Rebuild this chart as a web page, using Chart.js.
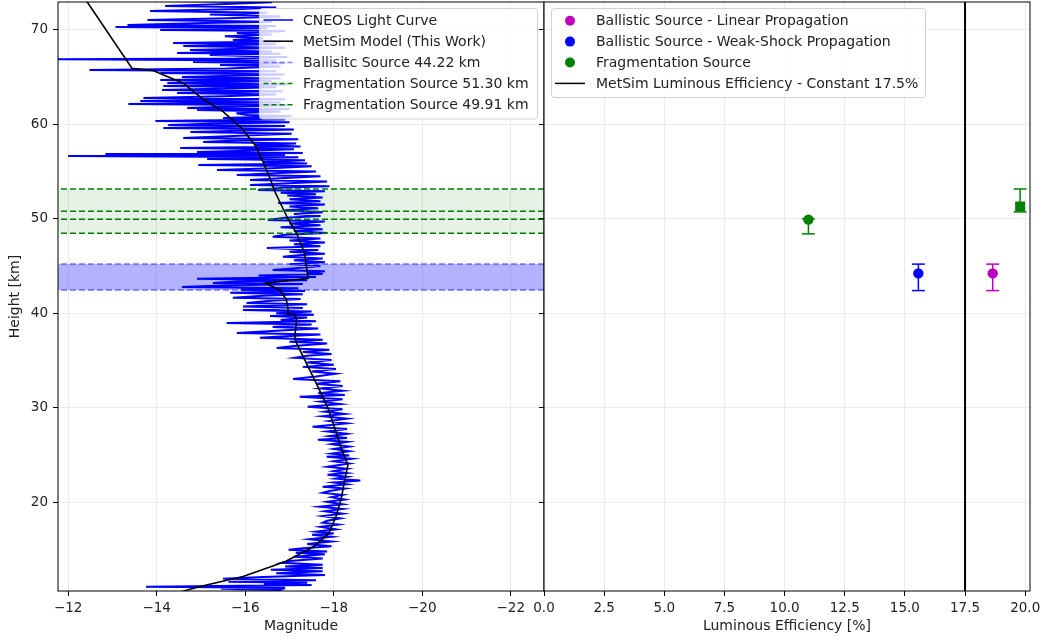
<!DOCTYPE html>
<html>
<head>
<meta charset="utf-8">
<script src="https://cdn.jsdelivr.net/npm/chart.js@4.4.0/dist/chart.umd.min.js"></script>
<style>
  html, body { margin: 0; padding: 0; background: #fff; }
  #wrap { position: relative; width: 1045px; height: 641px; overflow: hidden; }
  #magChart { position: absolute; left: 0; top: 0; }
  #effChart { position: absolute; left: 528px; top: 0; }
</style>
</head>
<body>
<div id="wrap">
  <canvas id="magChart" width="548" height="641"></canvas>
  <canvas id="effChart" width="517" height="641"></canvas>
</div>
<script>
// ---- data ----
const heightTicks = [20, 30, 40, 50, 60, 70];
const magTicks = [-12, -14, -16, -18, -20, -22];
const effTicks = [0, 2.5, 5, 7.5, 10, 12.5, 15, 17.5, 20];

// CNEOS light curve (height km / magnitude)
const lcHeight = [
  73.20, 72.90, 72.70, 72.50, 72.35, 72.20, 71.98, 71.80, 71.60, 71.40,
  71.20, 71.03, 70.85, 70.70, 70.50, 70.40, 70.29, 70.15, 69.97, 69.85,
  69.65, 69.50, 69.30, 69.10, 68.90, 68.75, 68.60, 68.45, 68.28, 68.10,
  67.85, 67.70, 67.54, 67.45, 67.32, 67.10, 66.95, 66.87, 66.75, 66.58,
  66.45, 66.27, 66.10, 65.90, 65.74, 65.60, 65.42, 65.25, 65.00, 64.85,
  64.68, 64.55, 64.36, 64.20, 64.05, 63.90, 63.75, 63.62, 63.50, 63.31,
  63.15, 62.95, 62.78, 62.65, 62.46, 62.30, 62.14, 62.00, 61.85, 61.72,
  61.60, 61.51, 61.35, 61.15, 60.98, 60.85, 60.65, 60.50, 60.35, 60.20,
  60.05, 59.92, 59.80, 59.60, 59.45, 59.30, 59.18, 59.00, 58.80, 58.55,
  58.40, 58.25, 58.12, 57.95, 57.80, 57.65, 57.49, 57.35, 57.20, 57.07,
  56.95, 56.85, 56.75, 56.64, 56.50, 56.33, 56.20, 56.00, 55.85, 55.69,
  55.55, 55.35, 55.16, 55.00, 54.85, 54.63, 54.50, 54.30, 54.10, 53.95,
  53.75, 53.57, 53.45, 53.30, 53.05, 52.90, 52.75, 52.60, 52.45, 52.25,
  52.05, 51.85, 51.67, 51.50, 51.30, 51.10, 50.90, 50.70, 50.50, 50.30,
  50.10, 49.87, 49.70, 49.50, 49.30, 49.10, 48.90, 48.70, 48.50, 48.30,
  48.10, 47.90, 47.70, 47.50, 47.30, 47.10, 46.91, 46.70, 46.50, 46.30,
  46.15, 45.99, 45.80, 45.60, 45.40, 45.20, 45.00, 44.80, 44.59, 44.45,
  44.30, 44.15, 44.00, 43.85, 43.64, 43.50, 43.35, 43.21, 43.10, 42.95,
  42.79, 42.65, 42.50, 42.35, 42.16, 42.00, 41.85, 41.63, 41.50, 41.30,
  41.10, 40.95, 40.71, 40.55, 40.36, 40.20, 40.00, 39.85, 39.72, 39.55,
  39.30, 39.15, 38.98, 38.80, 38.56, 38.40, 38.20, 37.92, 37.75, 37.55,
  37.40, 37.20, 37.00, 36.80, 36.55, 36.34, 36.15, 35.90, 35.70, 35.50,
  35.28, 35.05, 34.80, 34.55, 34.33, 34.10, 33.85, 33.60, 33.30, 33.06,
  32.80, 32.55, 32.30, 32.05, 31.80, 31.55, 31.35, 31.16, 30.90, 30.65,
  30.40, 30.10, 29.85, 29.60, 29.35, 29.10, 28.85, 28.60, 28.35, 27.99,
  27.75, 27.50, 27.25, 27.00, 26.80, 26.61, 26.40, 26.15, 25.90, 25.65,
  25.40, 25.15, 24.95, 24.81, 24.60, 24.35, 24.10, 23.90, 23.76, 23.55,
  23.30, 23.10, 22.91, 22.70, 22.50, 22.30, 22.10, 21.90, 21.64, 21.45,
  21.20, 21.00, 20.80, 20.55, 20.30, 20.05, 19.80, 19.53, 19.30, 19.05,
  18.80, 18.55, 18.30, 18.05, 17.84, 17.65, 17.40, 17.15, 16.90, 16.70,
  16.57, 16.35, 16.10, 15.85, 15.60, 15.35, 15.15, 14.98, 14.80, 14.67,
  14.50, 14.25, 14.05, 13.80, 13.61, 13.40, 13.20, 13.05, 12.87, 12.70,
  12.50, 12.30, 12.10, 11.92, 11.75, 11.60, 11.50, 11.39, 11.25, 11.07,
  10.96, 10.86, 10.75, 10.65, 10.50
];
const lcMag = [
  -11.50, -16.60, -15.40, -14.19, -16.70, -15.90, -13.85, -16.50, -15.20, -16.80,
  -15.60, -13.79, -16.60, -15.10, -13.34, -16.70, -13.07, -16.50, -14.08, -16.90,
  -15.81, -16.60, -15.54, -16.40, -15.72, -16.80, -14.37, -16.70, -14.60, -16.90,
  -14.75, -16.60, -14.46, -16.80, -15.20, -16.95, -15.80, -11.50, -16.70, -14.82,
  -16.90, -15.43, -16.80, -15.60, -12.48, -16.70, -14.08, -16.90, -14.57, -16.80,
  -14.08, -16.60, -14.24, -16.95, -14.15, -16.70, -15.30, -14.12, -16.85, -14.46,
  -16.70, -15.50, -13.70, -16.90, -13.63, -16.80, -13.36, -16.95, -15.60, -14.69,
  -17.00, -14.91, -16.80, -15.80, -16.04, -17.05, -15.50, -16.90, -13.97, -17.00,
  -15.20, -14.26, -16.90, -14.15, -17.10, -15.90, -14.76, -17.05, -16.00, -14.60,
  -17.20, -15.60, -15.05, -17.15, -16.20, -17.25, -14.53, -17.10, -16.00, -14.91,
  -17.30, -12.84, -16.90, -12.00, -17.20, -15.14, -17.35, -16.40, -17.40, -14.94,
  -17.50, -16.60, -15.36, -17.60, -16.80, -15.81, -17.70, -16.90, -16.11, -17.85,
  -17.00, -16.11, -17.90, -16.90, -16.29, -17.80, -16.80, -17.60, -16.95, -17.75,
  -17.00, -17.70, -16.74, -17.80, -17.00, -17.65, -16.90, -17.75, -17.10, -17.70,
  -16.90, -16.51, -17.80, -17.00, -17.70, -16.80, -17.75, -17.10, -17.85, -16.90,
  -16.62, -17.70, -17.00, -17.80, -17.10, -17.70, -16.49, -17.65, -17.00, -17.80,
  -17.20, -16.85, -17.75, -17.10, -17.80, -17.00, -17.70, -17.20, -16.62, -17.80,
  -17.40, -17.75, -16.30, -17.60, -14.91, -17.40, -15.80, -15.27, -17.30, -15.50,
  -14.57, -17.20, -15.90, -17.35, -15.66, -17.30, -16.40, -15.72, -17.25, -16.50,
  -16.03, -17.40, -15.95, -17.30, -15.95, -17.50, -16.70, -17.55, -16.56, -17.40,
  -16.80, -17.60, -15.58, -17.50, -16.62, -17.65, -16.90, -15.81, -17.70, -16.80,
  -16.33, -17.75, -17.00, -17.85, -17.10, -16.71, -17.90, -17.30, -17.95, -17.40,
  -17.12, -17.95, -17.40, -18.00, -17.30, -18.05, -17.50, -18.05, -17.60, -17.08,
  -18.15, -17.60, -18.20, -17.70, -18.20, -17.65, -18.25, -17.23, -18.20, -17.70,
  -18.15, -17.41, -18.20, -17.80, -18.25, -17.75, -18.30, -17.90, -18.30, -17.52,
  -18.30, -17.85, -18.30, -17.90, -18.30, -17.64, -18.30, -17.95, -18.35, -18.00,
  -18.35, -17.95, -18.35, -17.84, -18.40, -18.00, -18.35, -18.05, -17.86, -18.30,
  -18.00, -18.30, -17.86, -18.30, -18.05, -18.60, -18.00, -18.30, -17.75, -18.25,
  -17.90, -17.75, -18.20, -17.95, -18.25, -17.85, -18.20, -17.68, -18.20, -17.80,
  -18.20, -17.75, -18.15, -17.85, -17.75, -18.10, -17.70, -18.05, -17.60, -18.00,
  -17.51, -17.95, -17.45, -17.95, -17.40, -17.95, -17.30, -16.98, -17.85, -17.14,
  -17.80, -17.10, -17.75, -17.00, -16.83, -17.75, -16.90, -17.75, -16.58, -17.75,
  -16.70, -17.80, -16.40, -15.50, -17.60, -15.62, -17.40, -16.42, -17.50, -13.76,
  -16.90, -15.45, -16.80, -16.74, -15.50
];

// MetSim model curve
const modelHeight = [73.20, 72.93, 65.92, 65.66, 64.33, 62.64, 61.33, 59.57, 57.81, 56.04,
  54.29, 52.87, 49.95, 48.47, 46.35, 43.71, 43.18, 42.47, 41.42, 40.36,
  40.00, 39.83, 39.30, 37.53, 36.84, 34.36, 32.25, 29.96, 27.32, 25.20,
  23.97, 23.09, 22.20, 20.38, 18.50, 16.74, 15.33, 13.74, 12.15, 11.10, 10.57];
const modelMag = [-12.39, -12.43, -13.44, -13.93, -14.60, -15.05, -15.50, -15.92, -16.22, -16.40,
  -16.56, -16.67, -16.97, -17.16, -17.34, -17.42, -16.45, -16.78, -16.93, -16.97,
  -16.95, -17.12, -17.16, -17.12, -17.16, -17.42, -17.64, -17.87, -18.06, -18.21,
  -18.32, -18.28, -18.24, -18.17, -18.05, -17.89, -17.55, -16.91, -15.95, -14.98, -14.57];

const ballisticBand = [42.45, 45.22];
const fragBand = [48.47, 53.15];
const ballisticLines = [45.22, 42.45];
const fragLines = [53.15, 50.80, 49.95, 48.47];

// right panel: luminous efficiency of each source
const effValues = [18.65, 15.56, 10.99, 19.79];
const srcHeight = [44.22, 44.22, 49.91, 51.30];
const srcLow = [42.40, 42.40, 48.40, 50.72];
const srcHigh = [45.20, 45.20, 50.00, 53.15];
const metsimEff = 17.5;

// axis limits
const magMin = -22.75, magMax = -11.77;
const hMin = 10.62, hMax = 72.93;
const effMin = 0, effMax = 20.2;

// ---- styling ----
Chart.defaults.font.family = '"DejaVu Sans", sans-serif';
Chart.defaults.color = '#222';
const tickFont = { size: 13.5 };
const titleFont = { size: 14 };
const gridOpts = { color: '#ebebeb', lineWidth: 1, tickColor: '#000', tickLength: 5, drawTicks: true };
const srcColors = ['#bf00bf', '#0000ff', '#008000', '#008000'];
const srcStyles = ['circle', 'circle', 'circle', 'rect'];

function minusFmt(v) {
  return v < 0 ? '\u2212' + Math.abs(v) : String(v);
}

// keep the y axis from reserving room for its end labels
function fixY(width) {
  return s => { s.width = width; s.paddingTop = 0; s.paddingBottom = 0; };
}

function drawLegend(ctx, box, items) {
  ctx.save();
  ctx.beginPath();
  ctx.roundRect(box.x, box.y, box.w, box.h, 3);
  ctx.fillStyle = 'rgba(255,255,255,0.8)';
  ctx.fill();
  ctx.strokeStyle = '#d0d0d0';
  ctx.lineWidth = 1;
  ctx.stroke();
  ctx.font = '14px "DejaVu Sans"';
  ctx.textBaseline = 'middle';
  items.forEach((it, i) => {
    const y = box.y + box.first + i * box.step;
    if (it.kind === 'dot') {
      ctx.beginPath();
      ctx.arc(box.sx + box.sw / 2, y, 5, 0, Math.PI * 2);
      ctx.fillStyle = it.color;
      ctx.fill();
    } else {
      ctx.beginPath();
      ctx.setLineDash(it.dash || []);
      ctx.strokeStyle = it.color;
      ctx.lineWidth = 1.5;
      ctx.moveTo(box.sx, y);
      ctx.lineTo(box.sx + box.sw, y);
      ctx.stroke();
      ctx.setLineDash([]);
    }
    ctx.fillStyle = '#222';
    ctx.fillText(it.text, box.tx, y + 1);
  });
  ctx.restore();
}

function frame(chart) {
  const { ctx, chartArea: a } = chart;
  ctx.save();
  ctx.strokeStyle = '#000';
  ctx.lineWidth = 1;
  ctx.strokeRect(a.left, a.top, a.right - a.left, a.bottom - a.top);
  ctx.restore();
}

// ---- left panel: light curve ----
const hline = h => [{ x: magMin, y: h }, { x: magMax, y: h }];
const lineDs = (data, color, width, dash) => ({
  data, borderColor: color, borderWidth: width, borderDash: dash || [],
  showLine: true, pointRadius: 0, tension: 0
});

const bandPlugin = {
  id: 'bands',
  beforeDatasetsDraw(chart) {
    const { ctx, chartArea: a, scales: { y } } = chart;
    ctx.save();
    const f0 = y.getPixelForValue(fragBand[1]), f1 = y.getPixelForValue(fragBand[0]);
    ctx.fillStyle = 'rgba(0,128,0,0.1)';
    ctx.fillRect(a.left, f0, a.right - a.left, f1 - f0);
    const b0 = y.getPixelForValue(ballisticBand[1]), b1 = y.getPixelForValue(ballisticBand[0]);
    ctx.fillStyle = 'rgba(0,0,255,0.3)';
    ctx.fillRect(a.left, b0, a.right - a.left, b1 - b0);
    ctx.restore();
  }
};

const leftDecor = {
  id: 'leftDecor',
  afterDraw(chart) {
    frame(chart);
    drawLegend(chart.ctx,
      { x: 259.5, y: 8.5, w: 278, h: 110.5, first: 11.5, step: 21.2, sx: 263.5, sw: 29.5, tx: 303 },
      [
        { kind: 'line', color: '#0000ff', text: 'CNEOS Light Curve' },
        { kind: 'line', color: '#000', text: 'MetSim Model (This Work)' },
        { kind: 'line', color: 'rgba(0,0,255,0.5)', dash: [5, 3], text: 'Ballisitc Source 44.22 km' },
        { kind: 'line', color: '#008000', dash: [5, 3], text: 'Fragmentation Source 51.30 km' },
        { kind: 'line', color: '#008000', dash: [5, 3], text: 'Fragmentation Source 49.91 km' }
      ]);
  }
};

new Chart(document.getElementById('magChart'), {
  type: 'scatter',
  data: {
    datasets: [
      lineDs(modelHeight.map((h, i) => ({ x: modelMag[i], y: h })), '#000', 1.6),
      ...fragLines.map(h => lineDs(hline(h), '#008000', 1.5, [6, 3])),
      ...ballisticLines.map(h => lineDs(hline(h), 'rgba(0,0,255,0.5)', 1.5, [6, 3])),
      lineDs(lcHeight.map((h, i) => ({ x: lcMag[i], y: h })), '#0000ff', 2)
    ]
  },
  options: {
    responsive: false,
    animation: false,
    events: [],
    layout: { autoPadding: false, padding: { top: 2, right: 4, left: 0, bottom: 0 } },
    plugins: { legend: { display: false }, tooltip: { enabled: false } },
    scales: {
      x: {
        type: 'linear', reverse: true, min: magMin, max: magMax,
        afterBuildTicks: s => { s.ticks = magTicks.map(v => ({ value: v })); },
        afterFit: s => { s.height = 50; },
        ticks: { callback: v => minusFmt(v), font: tickFont, padding: 4, maxRotation: 0, autoSkip: false },
        grid: gridOpts,
        border: { display: false },
        title: { display: true, text: 'Magnitude', font: titleFont, padding: { top: 0, bottom: 6 } }
      },
      y: {
        type: 'linear', min: hMin, max: hMax,
        afterBuildTicks: s => { s.ticks = heightTicks.map(v => ({ value: v })); },
        afterFit: fixY(58),
        ticks: { font: tickFont, padding: 5, autoSkip: false },
        grid: gridOpts,
        border: { display: false },
        title: { display: true, text: 'Height [km]', font: titleFont, padding: { top: 7, bottom: 0 } }
      }
    }
  },
  plugins: [bandPlugin, leftDecor]
});

// ---- right panel: luminous efficiency ----
const markerSets = effValues.map((e, i) => ({
  data: [{ x: e, y: srcHeight[i] }],
  pointStyle: srcStyles[i],
  pointRadius: srcStyles[i] === 'rect' ? 7 : 5.2,
  pointBackgroundColor: srcColors[i],
  pointBorderColor: srcColors[i],
  pointBorderWidth: 0,
  showLine: false
}));
const errorSets = effValues.map((e, i) => ({
  data: [{ x: e, y: srcLow[i] }, { x: e, y: srcHigh[i] }],
  borderColor: srcColors[i],
  borderWidth: 1.5,
  showLine: true,
  pointStyle: 'line',
  pointRadius: 6.5,
  pointBorderWidth: 1.5,
  pointBorderColor: srcColors[i]
}));

const rightDecor = {
  id: 'rightDecor',
  afterDraw(chart) {
    frame(chart);
    drawLegend(chart.ctx,
      { x: 23.5, y: 8.5, w: 374, h: 89, first: 12.2, step: 20.9, sx: 27, sw: 30, tx: 68 },
      [
        { kind: 'dot', color: srcColors[0], text: 'Ballistic Source - Linear Propagation' },
        { kind: 'dot', color: srcColors[1], text: 'Ballistic Source - Weak-Shock Propagation' },
        { kind: 'dot', color: srcColors[2], text: 'Fragmentation Source' },
        { kind: 'line', color: '#000', text: 'MetSim Luminous Efficiency - Constant 17.5%' }
      ]);
  }
};

new Chart(document.getElementById('effChart'), {
  type: 'scatter',
  data: {
    datasets: [
      ...markerSets,
      ...errorSets,
      lineDs([{ x: metsimEff, y: hMin }, { x: metsimEff, y: hMax }], '#000', 2)
    ]
  },
  options: {
    responsive: false,
    animation: false,
    events: [],
    layout: { autoPadding: false, padding: { top: 2, right: 15, left: 0, bottom: 0 } },
    plugins: { legend: { display: false }, tooltip: { enabled: false } },
    scales: {
      x: {
        type: 'linear', min: effMin, max: effMax,
        afterBuildTicks: s => { s.ticks = effTicks.map(v => ({ value: v })); },
        afterFit: s => { s.height = 50; },
        ticks: { callback: v => Number(v).toFixed(1), font: tickFont, padding: 4, maxRotation: 0, autoSkip: false },
        grid: gridOpts,
        border: { display: false },
        title: { display: true, text: 'Luminous Efficiency [%]', font: titleFont, padding: { top: 0, bottom: 6 } }
      },
      y: {
        type: 'linear', min: hMin, max: hMax,
        afterBuildTicks: s => { s.ticks = heightTicks.map(v => ({ value: v })); },
        afterFit: fixY(16),
        // shared axis: labels are hidden, only tick marks show
        ticks: { font: tickFont, padding: 5, autoSkip: false, color: 'rgba(0,0,0,0)' },
        grid: gridOpts,
        border: { display: false }
      }
    }
  },
  plugins: [rightDecor]
});
</script>
</body>
</html>
